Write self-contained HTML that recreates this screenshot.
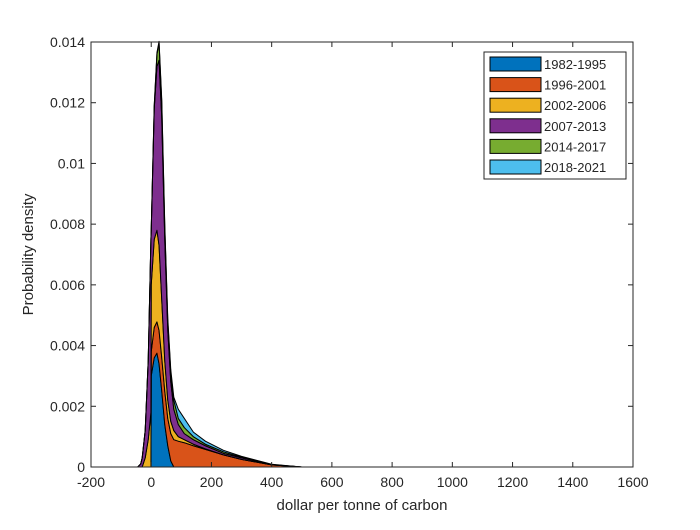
<!DOCTYPE html>
<html><head><meta charset="utf-8"><style>
body{margin:0;background:#fff;}
svg text{font-family:"Liberation Sans",Arial,sans-serif;fill:#262626;}
</style></head><body>
<svg width="700" height="525" viewBox="0 0 700 525">
<rect x="0" y="0" width="700" height="525" fill="#fff"/>
<g id="areas"></g>
<g id="axes"></g>
<g id="legend"></g>
</svg>
<script>
const xs = [-60,-45,-35,-30,-20,-10,-1,0,10,19,26,35,45,55,65,75,90,110,140,180,240,300,400,500,600,1600];
const s1982 = [0,0,0,0,0,0,0,.003,.0036,.00375,.0034,.0025,.0014,.0007,.0002,0,0,0,0,0,0,0,0,0,0,0];
const s1996 = [0,0,0,0,0,0,0,.0008,.001,.00103,.0011,.0011,.0011,.0009,.0009,.0009,.00085,.0008,.0007,.00058,.0004,.00025,.00007,0,0,0];
const s2002 = [0,0,0,0,.0003,.0009,.0018,.0022,.0029,.00302,.0028,.0019,.001,.0006,.0004,.0003,.00015,.0001,.00005,.00002,0,0,0,0,0,0];
const s2007 = [0,0,.0001,.0003,.0009,.0026,.0057,.0018,.0043,.0054,.0061,.006,.004,.0023,.0013,.0007,.0004,.0002,.00015,.0001,.00005,.00005,.00001,0,0,0];
const s2014 = [0,0,0,0,0,0,0,0,.0001,.0004,.00057,.0005,.0004,.0003,.0003,.0003,.0002,.0002,.0001,.00005,.00005,.00002,0,0,0,0];
const s2018 = [0,0,0,0,0,0,0,0,0,.00005,.00005,.0001,.0001,.0001,.0001,.0001,.0003,.0003,.00015,.0001,.00005,.00003,.00001,0,0,0];
const seriesNames = ["1982-1995","1996-2001","2002-2006","2007-2013","2014-2017","2018-2021"];
const xTicks = [-200,0,200,400,600,800,1000,1200,1400,1600];
const yTicks = [0,0.002,0.004,0.006,0.008,0.01,0.012,0.014];
const yTickLabels = ["0","0.002","0.004","0.006","0.008","0.01","0.012","0.014"];

const colors = ["#0072BD","#D95319","#EDB120","#7E2F8E","#77AC30","#4DBEEE"];
const L=91,R=633,T=42,B=467;
const xS=v=>L+(v+200)/1800*(R-L);
const yS=v=>B-v/0.014*(B-T);
const NS="http://www.w3.org/2000/svg";
function mk(tag,attrs,parent){const e=document.createElementNS(NS,tag);for(const k in attrs)e.setAttribute(k,attrs[k]);parent.appendChild(e);return e;}

const series=[s1982,s1996,s2002,s2007,s2014,s2018];
const areas=document.getElementById('areas');
let base=xs.map(()=>0);
series.forEach((s,i)=>{
  const top=base.map((b,j)=>b+s[j]);
  let d='M'+xs.map((x,j)=>xS(x).toFixed(2)+','+yS(top[j]).toFixed(2)).join('L');
  for(let j=xs.length-1;j>=0;j--)d+='L'+xS(xs[j]).toFixed(2)+','+yS(base[j]).toFixed(2);
  d+='Z';
  const p=mk('path',{d:d,fill:colors[i],stroke:'#000','stroke-width':1,'stroke-linejoin':'round'},areas);
  
  
  base=top;
});

const ax=document.getElementById('axes');
mk('rect',{x:L,y:T,width:R-L,height:B-T,fill:'none',stroke:'#262626','stroke-width':1},ax);
xTicks.forEach(v=>{
  const x=xS(v);
  mk('line',{x1:x,x2:x,y1:B,y2:B-5,stroke:'#262626'},ax);
  mk('line',{x1:x,x2:x,y1:T,y2:T+5,stroke:'#262626'},ax);
  const t=mk('text',{x:x,y:B+20,'text-anchor':'middle','font-size':14},ax);
  t.textContent=v;
  
  
});
yTicks.forEach((v,i)=>{
  const y=yS(v);
  mk('line',{x1:L,x2:L+5,y1:y,y2:y,stroke:'#262626'},ax);
  mk('line',{x1:R,x2:R-5,y1:y,y2:y,stroke:'#262626'},ax);
  const t=mk('text',{x:L-6,y:y+5,'text-anchor':'end','font-size':14},ax);
  t.textContent=yTickLabels[i];
  
  
});
const xt=mk('text',{x:(L+R)/2,y:B+43,'text-anchor':'middle','font-size':15},ax);
xt.textContent='dollar per tonne of carbon';


const yt=mk('text',{x:0,y:0,'text-anchor':'middle','font-size':15,transform:'translate(33,'+((T+B)/2)+') rotate(-90)'},ax);
yt.textContent='Probability density';



const lg=document.getElementById('legend');
mk('rect',{x:484,y:52,width:142,height:127,fill:'#fff',stroke:'#262626','stroke-width':1},lg);
seriesNames.forEach((n,i)=>{
  const cy=64+i*20.6;
  const g=mk('g',{},lg);
  
  
  mk('rect',{x:490,y:cy-7,width:51,height:14,fill:colors[i],stroke:'#000','stroke-width':1},g);
  const t=mk('text',{x:544,y:cy+5,'font-size':13,fill:'#000'},g);
  t.textContent=n;
});
</script>
</body></html>
